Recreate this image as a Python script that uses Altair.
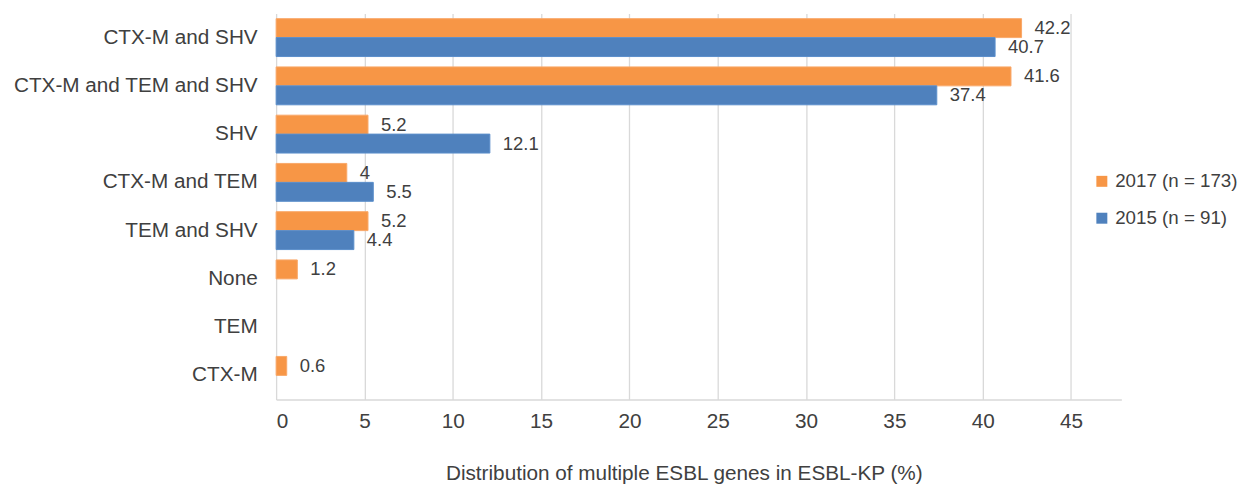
import altair as alt
import pandas as pd

categories = ["CTX-M and SHV", "CTX-M and TEM and SHV", "SHV", "CTX-M and TEM",
              "TEM and SHV", "None", "TEM", "CTX-M"]
series_names = ["2017 (n = 173)", "2015 (n = 91)"]
values_2017 = [42.2, 41.6, 5.2, 4, 5.2, 1.2, None, 0.6]
values_2015 = [40.7, 37.4, 12.1, 5.5, 4.4, None, None, None]
x_ticks = [0, 5, 10, 15, 20, 25, 30, 35, 40, 45]

rows = []
for name, vals in zip(series_names, [values_2017, values_2015]):
    for cat, v in zip(categories, vals):
        if v is not None:
            rows.append({"category": cat, "series": name, "value": v, "label": f"{v:g}"})
df = pd.DataFrame(rows)

FONT = "Liberation Sans"
TXT = "#404040"
GRID = "#D9D9D9"
ORANGE = "#F79646"
BLUE = "#4F81BD"

base = alt.Chart(df).encode(
    y=alt.Y("category:N", sort=categories,
            scale=alt.Scale(domain=categories, paddingInner=0.215, paddingOuter=0.1075),
            axis=alt.Axis(title=None, labelFontSize=20.8, labelColor=TXT, labelFont=FONT,
                          labelPadding=19, ticks=False, domain=False, grid=False,
                          labelLimit=400)),
    yOffset=alt.YOffset("series:N", sort=series_names,
                        scale=alt.Scale(domain=series_names)),
    x=alt.X("value:Q",
            scale=alt.Scale(domain=[0, 47.85], nice=False, zero=True),
            axis=alt.Axis(values=x_ticks, title="Distribution of multiple ESBL genes in ESBL-KP (%)",
                          labelFontSize=20.8, labelColor=TXT, labelFont=FONT, labelPadding=12,
                          ticks=False, domainColor=GRID, domainWidth=1.3, gridColor=GRID,
                          gridWidth=1.3, titleFontSize=20.8, titleFont=FONT, titleColor=TXT,
                          titleFontWeight="normal", titleX=409, titleAlign="center",
                          titleY=80, titleBaseline="alphabetic")),
)

bars = base.mark_bar(strokeWidth=1).encode(
    color=alt.Color("series:N", sort=series_names,
                    scale=alt.Scale(domain=series_names, range=[ORANGE, BLUE]),
                    legend=alt.Legend(title=None, orient="none", legendX=819, legendY=159,
                                      symbolType="square", symbolSize=121, symbolStrokeWidth=0,
                                      labelFontSize=18.8, labelFont=FONT, labelColor=TXT,
                                      labelOffset=4, rowPadding=17, padding=0,
                                      labelLimit=300)),
    stroke=alt.Stroke("series:N", sort=series_names,
                      scale=alt.Scale(domain=series_names, range=["#F9A868", "#5B8FCB"]),
                      legend=None),
)

text = base.mark_text(align="left", baseline="middle", dx=13, fontSize=18.5,
                      font=FONT, color=TXT).encode(text="label:N")

chart = (bars + text).properties(
    width=848, height=387.3,
    padding={"left": 269, "top": 4.7, "right": 118, "bottom": 95},
    autosize=alt.AutoSizeParams(type="none"),
).configure_view(stroke=None)

chart.save("out.html", embed_options={"renderer": "svg", "actions": False})
